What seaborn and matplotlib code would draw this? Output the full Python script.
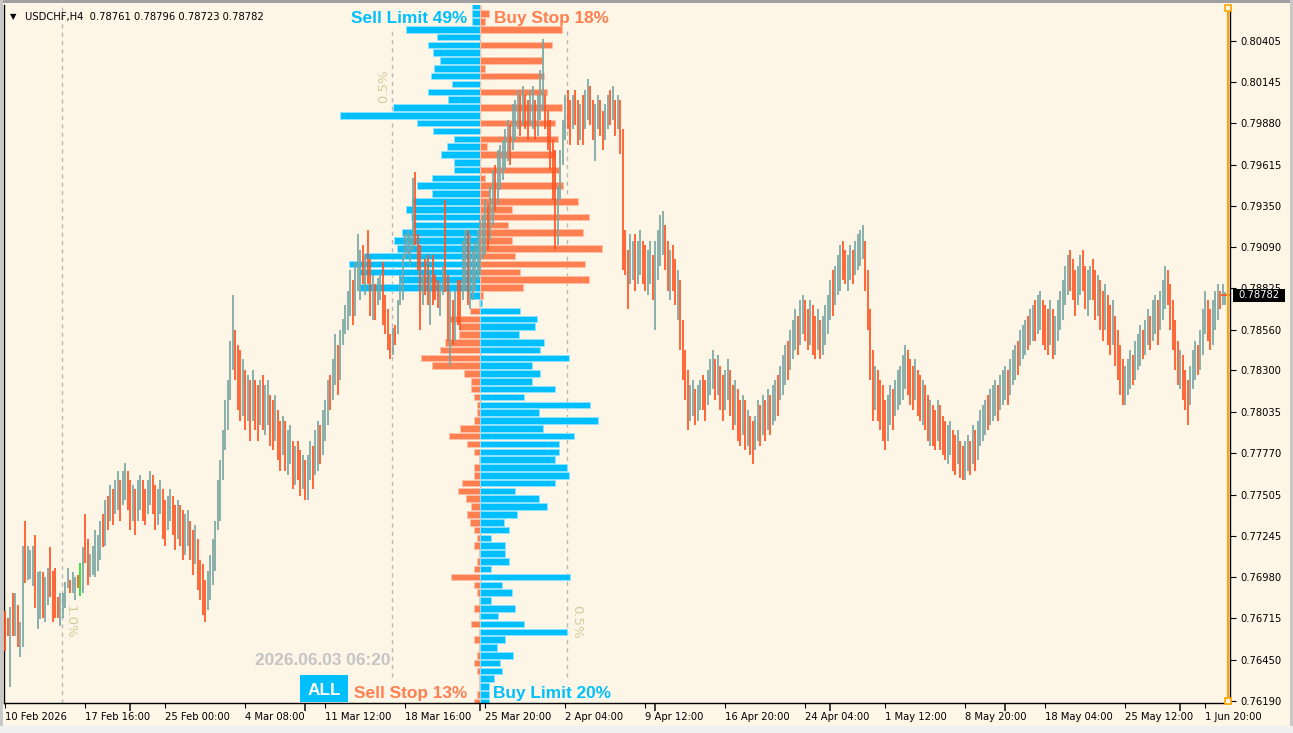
import numpy as np
import pandas as pd
import matplotlib
matplotlib.use("Agg")
import matplotlib.pyplot as plt
from matplotlib.patches import Rectangle
from matplotlib.lines import Line2D
import seaborn as sns

sns.set_theme(style="white")
plt.rcParams['font.family'] = ['DejaVu Sans']

W, H = 1293, 733

# ---------------- data ----------------
header = "USDCHF,H4  0.78761 0.78796 0.78723 0.78782"
last_price = 0.78782
price_ticks = [0.80405, 0.80145, 0.79880, 0.79615, 0.79350, 0.79090, 0.78825, 0.78560,
               0.78300, 0.78035, 0.77770, 0.77505, 0.77245, 0.76980, 0.76715, 0.76450, 0.76190]
date_labels = ["10 Feb 2026", "17 Feb 16:00", "25 Feb 00:00", "4 Mar 08:00", "11 Mar 12:00",
               "18 Mar 16:00", "25 Mar 20:00", "2 Apr 04:00", "9 Apr 12:00", "16 Apr 20:00",
               "24 Apr 04:00", "1 May 12:00", "8 May 20:00", "18 May 04:00", "25 May 12:00",
               "1 Jun 20:00"]
date_tick_bars = [0, 32, 64, 96, 128, 160, 192, 224, 256, 288, 320, 352, 384, 416, 448, 480]

# order-book levels above the current price (Sell Limit left, Buy Stop right), in %
levels_above = [0.8063, 0.8058, 0.8053, 0.8048, 0.8043, 0.8038, 0.8033, 0.8028, 0.8023, 0.8018,
                0.8013, 0.8008, 0.8003, 0.7998, 0.7993, 0.7988, 0.7983, 0.7978, 0.7973, 0.7968,
                0.7963, 0.7958, 0.7953, 0.7948, 0.7943, 0.7938, 0.7933, 0.7928, 0.7923, 0.7918,
                0.7913, 0.7908, 0.7903, 0.7898, 0.7893, 0.7888, 0.7883, 0.7878]
sell_limit = [0.046, 0.046, 0.046, 0.421, 0.246, 0.297, 0.269, 0.230, 0.265, 0.280,
              0.158, 0.297, 0.181, 0.497, 0.802, 0.360, 0.269, 0.147, 0.189, 0.223,
              0.147, 0.147, 0.274, 0.360, 0.274, 0.389, 0.421, 0.393, 0.389, 0.446,
              0.493, 0.474, 0.665, 0.750, 0.693, 0.465, 0.684, 0.055]
buy_stop = [0.006, 0.051, 0.030, 0.467, 0.0, 0.410, 0.0, 0.356, 0.030, 0.366,
            0.0, 0.381, 0.0, 0.467, 0.0, 0.430, 0.0, 0.444, 0.038, 0.430,
            0.0, 0.451, 0.030, 0.473, 0.051, 0.558, 0.181, 0.625, 0.158, 0.587,
            0.181, 0.695, 0.202, 0.602, 0.230, 0.625, 0.244, 0.015]
# levels below the current price (Sell Stop left, Buy Limit right), in %
levels_below = [0.7873, 0.7868, 0.7863, 0.7858, 0.7853, 0.7848, 0.7843, 0.7838, 0.7833, 0.7828,
                0.7823, 0.7818, 0.7813, 0.7808, 0.7803, 0.7798, 0.7793, 0.7788, 0.7783, 0.7778,
                0.7773, 0.7768, 0.7763, 0.7758, 0.7753, 0.7748, 0.7743, 0.7738, 0.7733, 0.7728,
                0.7723, 0.7718, 0.7713, 0.7708, 0.7703, 0.7698, 0.7693, 0.7688, 0.7683, 0.7678,
                0.7673, 0.7668, 0.7663, 0.7658, 0.7653, 0.7648, 0.7643, 0.7638, 0.7633, 0.7628,
                0.7623, 0.7618]
sell_stop = [0.007, 0.059, 0.179, 0.122, 0.122, 0.202, 0.230, 0.337, 0.274, 0.093,
             0.051, 0.051, 0.033, 0.017, 0.017, 0.036, 0.116, 0.179, 0.074, 0.033,
             0.007, 0.033, 0.033, 0.103, 0.124, 0.080, 0.051, 0.074, 0.059, 0.036,
             0.017, 0.033, 0.007, 0.017, 0.036, 0.166, 0.033, 0.017, 0.007, 0.036,
             0.007, 0.051, 0.007, 0.033, 0.007, 0.017, 0.033, 0.017, 0.007, 0.007,
             0.017, 0.033]
buy_limit = [0.010, 0.229, 0.324, 0.314, 0.223, 0.366, 0.343, 0.509, 0.295, 0.343,
             0.295, 0.430, 0.251, 0.629, 0.337, 0.673, 0.358, 0.537, 0.451, 0.451,
             0.430, 0.495, 0.509, 0.430, 0.202, 0.337, 0.381, 0.210, 0.137, 0.166,
             0.061, 0.145, 0.145, 0.166, 0.061, 0.514, 0.124, 0.181, 0.061, 0.202,
             0.101, 0.251, 0.495, 0.145, 0.095, 0.187, 0.116, 0.124, 0.080, 0.051,
             0.051, 0.051]

# H4 bars: highs and lows in pips (price x 10000), direction u = bull, d = bear
high_pips = [
    7676, 7672, 7679, 7688, 7688, 7680, 7669, 7718, 7734, 7718, 7715, 7718, 7725, 7701, 7702, 7701,
    7698, 7704, 7717, 7702, 7704, 7685, 7688, 7688, 7695, 7704, 7696, 7701, 7698, 7699, 7707, 7717,
    7738, 7722, 7713, 7718, 7728, 7725, 7734, 7738, 7747, 7750, 7757, 7754, 7760, 7766, 7760, 7766,
    7771, 7766, 7760, 7757, 7754, 7760, 7763, 7760, 7754, 7760, 7766, 7763, 7757, 7754, 7760, 7754,
    7747, 7750, 7754, 7750, 7744, 7747, 7744, 7741, 7738, 7741, 7734, 7728, 7731, 7722, 7709, 7706,
    7696, 7702, 7712, 7722, 7734, 7760, 7773, 7792, 7811, 7824, 7849, 7878, 7856, 7846, 7843, 7837,
    7830, 7827, 7824, 7830, 7824, 7821, 7824, 7827, 7821, 7824, 7814, 7811, 7814, 7805, 7798, 7801,
    7798, 7792, 7795, 7785, 7782, 7785, 7779, 7776, 7773, 7776, 7785, 7782, 7792, 7798, 7795, 7805,
    7811, 7824, 7827, 7837, 7853, 7846, 7856, 7863, 7872, 7881, 7894, 7888, 7899, 7917, 7907, 7910,
    7904, 7920, 7901, 7891, 7885, 7889, 7892, 7899, 7878, 7869, 7853, 7857, 7859, 7875, 7891, 7904,
    7917, 7920, 7917, 7953, 7957, 7917, 7910, 7891, 7901, 7904, 7891, 7904, 7891, 7888, 7885, 7897,
    7939, 7891, 7881, 7875, 7881, 7888, 7888, 7913, 7920, 7920, 7917, 7907, 7913, 7920, 7926, 7929,
    7939, 7936, 7948, 7958, 7961, 7971, 7974, 7977, 7984, 7990, 7987, 8000, 8003, 8009, 8006, 8012,
    8006, 8003, 8009, 8012, 8003, 8006, 8022, 8042, 8006, 7996, 7990, 7977, 7971, 7948, 7971, 7990,
    8006, 8009, 8003, 8006, 8009, 8003, 8000, 8006, 8009, 8016, 8012, 8003, 8000, 8006, 8003, 7996,
    8000, 8006, 8009, 8012, 8003, 8006, 8003, 7984, 7920, 7907, 7917, 7913, 7917, 7913, 7920, 7913,
    7910, 7907, 7913, 7904, 7913, 7920, 7929, 7932, 7923, 7913, 7907, 7910, 7901, 7894, 7888, 7862,
    7843, 7830, 7821, 7824, 7818, 7821, 7824, 7827, 7824, 7830, 7837, 7843, 7837, 7840, 7833, 7827,
    7830, 7837, 7830, 7821, 7824, 7818, 7811, 7814, 7811, 7805, 7801, 7798, 7801, 7811, 7808, 7814,
    7811, 7818, 7814, 7821, 7824, 7827, 7833, 7840, 7846, 7849, 7856, 7862, 7869, 7865, 7875, 7878,
    7875, 7869, 7875, 7872, 7865, 7869, 7862, 7865, 7872, 7878, 7888, 7894, 7897, 7904, 7910, 7913,
    7907, 7904, 7910, 7907, 7913, 7917, 7920, 7923, 7913, 7894, 7869, 7843, 7833, 7830, 7824, 7821,
    7811, 7814, 7821, 7818, 7824, 7830, 7833, 7840, 7846, 7843, 7837, 7833, 7837, 7830, 7827, 7824,
    7821, 7814, 7811, 7808, 7805, 7811, 7808, 7801, 7798, 7795, 7798, 7792, 7789, 7792, 7785, 7782,
    7785, 7789, 7785, 7795, 7792, 7798, 7805, 7808, 7811, 7814, 7818, 7821, 7824, 7821, 7827, 7830,
    7833, 7830, 7837, 7843, 7846, 7849, 7856, 7859, 7862, 7865, 7869, 7872, 7875, 7878, 7881, 7875,
    7872, 7869, 7875, 7869, 7865, 7875, 7881, 7888, 7897, 7904, 7907, 7901, 7894, 7897, 7904, 7907,
    7897, 7894, 7897, 7901, 7894, 7891, 7888, 7881, 7885, 7878, 7872, 7875, 7865, 7856, 7846, 7837,
    7833, 7837, 7843, 7840, 7849, 7853, 7859, 7856, 7862, 7869, 7865, 7875, 7878, 7875, 7881, 7888,
    7897, 7894, 7885, 7875, 7862, 7849, 7843, 7840, 7830, 7824, 7833, 7843, 7849, 7846, 7856, 7869,
    7881, 7875, 7869, 7875, 7881, 7885, 7881, 7885, 7880]
low_pips = [
    7651, 7660, 7628, 7660, 7660, 7653, 7647, 7653, 7694, 7696, 7697, 7692, 7678, 7665, 7671, 7672,
    7669, 7680, 7685, 7669, 7672, 7672, 7667, 7672, 7678, 7691, 7688, 7688, 7683, 7691, 7686, 7688,
    7707, 7693, 7698, 7699, 7698, 7702, 7709, 7717, 7718, 7728, 7734, 7731, 7738, 7741, 7734, 7744,
    7747, 7741, 7728, 7734, 7725, 7734, 7741, 7734, 7731, 7738, 7744, 7738, 7728, 7731, 7738, 7722,
    7718, 7728, 7734, 7725, 7715, 7722, 7718, 7709, 7712, 7718, 7709, 7699, 7706, 7690, 7683, 7674,
    7669, 7677, 7683, 7693, 7702, 7728, 7734, 7760, 7779, 7792, 7811, 7830, 7824, 7805, 7798, 7801,
    7792, 7798, 7785, 7798, 7792, 7785, 7795, 7792, 7789, 7795, 7782, 7779, 7785, 7773, 7766, 7776,
    7766, 7763, 7770, 7754, 7757, 7760, 7750, 7754, 7747, 7747, 7760, 7754, 7763, 7766, 7770, 7776,
    7785, 7795, 7805, 7811, 7821, 7814, 7824, 7846, 7853, 7856, 7865, 7859, 7865, 7881, 7875, 7885,
    7878, 7885, 7865, 7862, 7862, 7872, 7875, 7859, 7853, 7843, 7837, 7840, 7846, 7853, 7872, 7875,
    7901, 7904, 7897, 7907, 7910, 7894, 7856, 7872, 7878, 7872, 7859, 7872, 7875, 7870, 7865, 7878,
    7880, 7849, 7833, 7846, 7849, 7859, 7856, 7875, 7881, 7872, 7869, 7875, 7881, 7888, 7891, 7901,
    7904, 7907, 7913, 7923, 7932, 7936, 7945, 7952, 7958, 7964, 7961, 7971, 7977, 7984, 7980, 7987,
    7984, 7977, 7987, 7984, 7977, 7980, 7990, 7996, 7984, 7971, 7958, 7939, 7907, 7910, 7939, 7961,
    7977, 7984, 7974, 7984, 7987, 7974, 7977, 7974, 7984, 7990, 7987, 7977, 7964, 7984, 7980, 7971,
    7977, 7984, 7987, 7990, 7980, 7984, 7968, 7894, 7891, 7869, 7885, 7888, 7881, 7885, 7891, 7885,
    7881, 7878, 7885, 7875, 7856, 7888, 7897, 7904, 7894, 7881, 7875, 7881, 7872, 7862, 7843, 7824,
    7811, 7792, 7798, 7801, 7795, 7798, 7805, 7805, 7798, 7808, 7814, 7818, 7811, 7814, 7805, 7798,
    7805, 7811, 7801, 7792, 7795, 7785, 7782, 7789, 7779, 7782, 7776, 7770, 7779, 7785, 7782, 7789,
    7785, 7792, 7789, 7795, 7798, 7801, 7811, 7814, 7821, 7824, 7830, 7837, 7843, 7840, 7846, 7853,
    7849, 7843, 7846, 7840, 7837, 7843, 7837, 7840, 7846, 7853, 7862, 7865, 7872, 7878, 7881, 7888,
    7885, 7881, 7888, 7885, 7891, 7894, 7897, 7901, 7881, 7856, 7824, 7798, 7805, 7798, 7792, 7785,
    7779, 7785, 7795, 7792, 7801, 7805, 7808, 7811, 7818, 7814, 7808, 7805, 7811, 7801, 7798, 7795,
    7792, 7785, 7782, 7782, 7779, 7785, 7779, 7776, 7773, 7770, 7776, 7766, 7763, 7770, 7761, 7760,
    7760, 7766, 7763, 7770, 7766, 7773, 7782, 7785, 7789, 7792, 7795, 7798, 7801, 7798, 7805, 7808,
    7811, 7808, 7814, 7821, 7824, 7827, 7833, 7837, 7840, 7843, 7846, 7849, 7849, 7853, 7856, 7846,
    7843, 7840, 7846, 7837, 7840, 7849, 7856, 7862, 7872, 7878, 7881, 7875, 7865, 7872, 7878, 7881,
    7869, 7865, 7875, 7875, 7862, 7865, 7856, 7849, 7856, 7846, 7840, 7846, 7833, 7824, 7814, 7808,
    7808, 7814, 7818, 7821, 7824, 7830, 7833, 7837, 7840, 7846, 7843, 7849, 7853, 7846, 7856, 7862,
    7869, 7872, 7856, 7843, 7830, 7821, 7818, 7811, 7805, 7795, 7808, 7818, 7824, 7827, 7830, 7840,
    7853, 7849, 7843, 7846, 7856, 7862, 7869, 7872, 7872]
bar_dir = ("ddududuu" "duuuduud" "uudddduu" "uuduuduu" "dduuuuud" "ududuudu" "udduduud" "duudduud"
           "duuddudd" "uudduddd" "duuuuuuu" "uuuudddu" "dududdud" "uudduddu" "duududdu" "duuduudu"
           "uuduuduu" "uuuduuud" "udduduud" "ddduduuu" "uuuudddu" "dduddduu" "ddududdu" "uduuuuuu"
           "uduuduuu" "uuduuudu" "dduuduuu" "ddddduuu" "udduddud" "uudduudd" "uudududd" "dduuduud"
           "duuduuuu" "dduddudd" "dduuduud" "duuududd" "uudduddu" "dudduudu" "duduuduu" "uduuuduu"
           "dduddudu" "uuuduuud" "duuduuuu" "dddduddd" "duuduuuu" "uddduddu" "dduddudd" "duuddudd"
           "uududuuu" "uduuuduu" "uduuuduu" "uduuduud" "dduduuuu" "uuddduud" "duuddudd" "uddudddd"
           "uuuduuud" "uuduuduu" "udddddud" "dduuuduu" "udduuudu" "u")
highlight_bar = 30

# ---------------- style ----------------
BG = '#FDF5E6'
BLUE = '#00BFFF'
CORAL = '#FF7F50'
BULL = '#7BA6A2'
BEAR = '#FF5522'
DASH = '#B8B8B8'
PCT = '#D6CC98'


def fx(px):
    return px / W


def fy(py):
    return 1 - py / H


fig = plt.figure(figsize=(W / 100, H / 100), dpi=100)
fig.patch.set_facecolor(BG)

AX_L, AX_R, AX_T, AX_B = 4.0, 1229.5, 5.0, 703.0
ax_h = fig.add_axes([fx(AX_L), fy(AX_B), (AX_R - AX_L) / W, (AX_B - AX_T) / H])
ax_h.set_facecolor(BG)

Y_TOP, Y_BOT = 0.80635, 0.76175
CENTER_PX, PX_PER_PCT = 480.0, 175.0
hx0 = (AX_L - CENTER_PX) / PX_PER_PCT
hx1 = (AX_R - CENTER_PX) / PX_PER_PCT

# reference dashed lines
ax_h.vlines([-0.5, 0.5], 0.76341, 0.80488, colors=DASH, linestyles=(0, (3, 3)), linewidth=1, zorder=1)
ax_h.axvline((62 - CENTER_PX) / PX_PER_PCT, color=DASH, linestyle=(0, (3, 3)), linewidth=1, zorder=1)
ax_h.axvline(0, color='#FFA07A', linestyle=(0, (3, 2)), linewidth=1, zorder=1)

above = pd.DataFrame({"price": levels_above, "sell_limit": sell_limit, "buy_stop": buy_stop})
below = pd.DataFrame({"price": levels_below, "sell_stop": sell_stop, "buy_limit": buy_limit})


def hbars(values, prices, color, edge):
    sns.barplot(x=values, y=prices, orient='h', native_scale=True, color=color,
                saturation=1, errorbar=None, width=0.84, ax=ax_h,
                edgecolor=edge, linewidth=0.7, zorder=2)


hbars(-above["sell_limit"], above["price"], BLUE, '#8FE3FF')
hbars(above["buy_stop"], above["price"], CORAL, '#FFC2A8')
hbars(-below["sell_stop"], below["price"], CORAL, '#FFC2A8')
hbars(below["buy_limit"], below["price"], BLUE, '#8FE3FF')

ax_h.set_xlim(hx0, hx1)
ax_h.set_ylim(Y_BOT, Y_TOP)
ax_h.set_xlabel('')
ax_h.set_ylabel('')

ax_h.text(-0.549, 0.80118, "0.5%", rotation=90, color=PCT, fontsize=9.5, ha='center', va='center', zorder=1)
ax_h.text(0.551, 0.76696, "0.5%", rotation=270, color=PCT, fontsize=9.5, ha='center', va='center', zorder=1)
ax_h.text((70.5 - CENTER_PX) / PX_PER_PCT, 0.76696, "1.0%", rotation=270, color=PCT, fontsize=9.5,
          ha='center', va='center', zorder=1)

# price axis on the right
ax_h.yaxis.set_ticks_position('right')
ax_h.set_yticks(price_ticks)
ax_h.set_yticklabels([f"{p:.5f}" for p in price_ticks])
ax_h.tick_params(axis='y', which='major', direction='out', length=4.5, width=0.8, color='black',
                 labelsize=7.2, pad=3, labelcolor='black', right=True, left=False, labelright=True,
                 labelleft=False)
ax_h.tick_params(axis='x', bottom=False, top=False, labelbottom=False, labeltop=False)
for side in ['left', 'bottom', 'right']:
    ax_h.spines[side].set_visible(True)
    ax_h.spines[side].set_color('black')
    ax_h.spines[side].set_linewidth(1.0)
ax_h.spines['top'].set_visible(False)

# candles on top
ax_c = ax_h.twiny()
BAR_PX = 2.5
ax_c.set_xlim((AX_L - 5) / BAR_PX, (AX_R - 5) / BAR_PX)
ax_c.set_ylim(Y_BOT, Y_TOP)
for s in ax_c.spines.values():
    s.set_visible(False)

n = min(len(high_pips), len(low_pips), len(bar_dir))
hi = np.array(high_pips[:n], dtype=float) / 1e4
lo = np.array(low_pips[:n], dtype=float) / 1e4
top = np.maximum(hi, lo)
bot = np.minimum(hi, lo)
idx = np.arange(n)
cols = [BULL if d == 'u' else BEAR for d in bar_dir[:n]]
if highlight_bar < n:
    cols[highlight_bar] = '#22DD22'
ax_c.vlines(idx, bot, top, colors=cols, linewidth=1.25, zorder=3)
ax_c.hlines(last_price, n - 2.6, n + 0.8, colors=BEAR, linewidth=1.2, zorder=4)

ax_c.xaxis.set_ticks_position('bottom')
ax_c.set_xticks(date_tick_bars)
ax_c.set_xticklabels(date_labels)
ax_c.tick_params(axis='x', direction='out', length=3.8, width=0.8, color='black', labelsize=7.2,
                 pad=2.5, bottom=True, top=False, labelbottom=True, labeltop=False, labelcolor='black')
for lab in ax_c.get_xticklabels():
    lab.set_horizontalalignment('left')

# ---------------- annotations ----------------
BOLD = dict(family='Liberation Sans', weight='bold', fontsize=12.4)
fig.text(fx(467), fy(23), "Sell Limit 49%", ha='right', va='baseline', color=BLUE, **BOLD)
fig.text(fx(494), fy(23), "Buy Stop 18%", ha='left', va='baseline', color=CORAL, **BOLD)
fig.text(fx(467), fy(698), "Sell Stop 13%", ha='right', va='baseline', color=CORAL, **BOLD)
fig.text(fx(493), fy(698), "Buy Limit 20%", ha='left', va='baseline', color=BLUE, **BOLD)
fig.text(fx(255), fy(665), "2026.06.03 06:20", ha='left', va='baseline', color='#C4C4C4', **BOLD)
fig.add_artist(Rectangle((fx(300), fy(702)), (348 - 300) / W, (702 - 675) / H,
                         transform=fig.transFigure, facecolor=BLUE, edgecolor='none', zorder=5))
fig.text(fx(324), fy(695), "ALL", ha='center', va='baseline', color='white', zorder=6, **BOLD)

# header
fig.text(fx(10), fy(19.5), "\u25BC", fontsize=6, color='black', ha='left', va='baseline')
fig.text(fx(25), fy(20), header, fontsize=7.2, color='black', ha='left', va='baseline')

# current price label
fig.add_artist(Rectangle((fx(1233), fy(301.5)), (1285 - 1233) / W, 13 / H,
                         transform=fig.transFigure, facecolor='black', edgecolor='none', zorder=5))
fig.text(fx(1259), fy(295), f"{last_price:.5f}", fontsize=7.2, color='white', ha='center',
         va='center', zorder=6)

# orange shift marker line with squares
fig.add_artist(Line2D([fx(1228), fx(1228)], [fy(8), fy(700)], transform=fig.transFigure,
                      color='#FFA500', linewidth=1.5, zorder=5))
for cy in (8.3, 700.5):
    fig.add_artist(Rectangle((fx(1225), fy(cy + 3)), 6 / W, 6 / H, transform=fig.transFigure,
                             facecolor=BG, edgecolor='#FFA500', linewidth=1.2, zorder=6))

# window frame
fig.add_artist(Rectangle((0, fy(2.5)), 1, 2.5 / H, transform=fig.transFigure,
                         facecolor='#A0A0A0', edgecolor='none', zorder=7))
fig.add_artist(Rectangle((0, 0), fx(3), 1, transform=fig.transFigure,
                         facecolor='#C8C8C8', edgecolor='none', zorder=7))
fig.add_artist(Rectangle((fx(1290), 0), fx(3), 1, transform=fig.transFigure,
                         facecolor='#C8C8C8', edgecolor='none', zorder=7))
fig.add_artist(Rectangle((0, 0), 1, 7 / H, transform=fig.transFigure,
                         facecolor='#F0F0F0', edgecolor='none', zorder=7))

fig.savefig("out.png", dpi=100, facecolor=fig.get_facecolor())
